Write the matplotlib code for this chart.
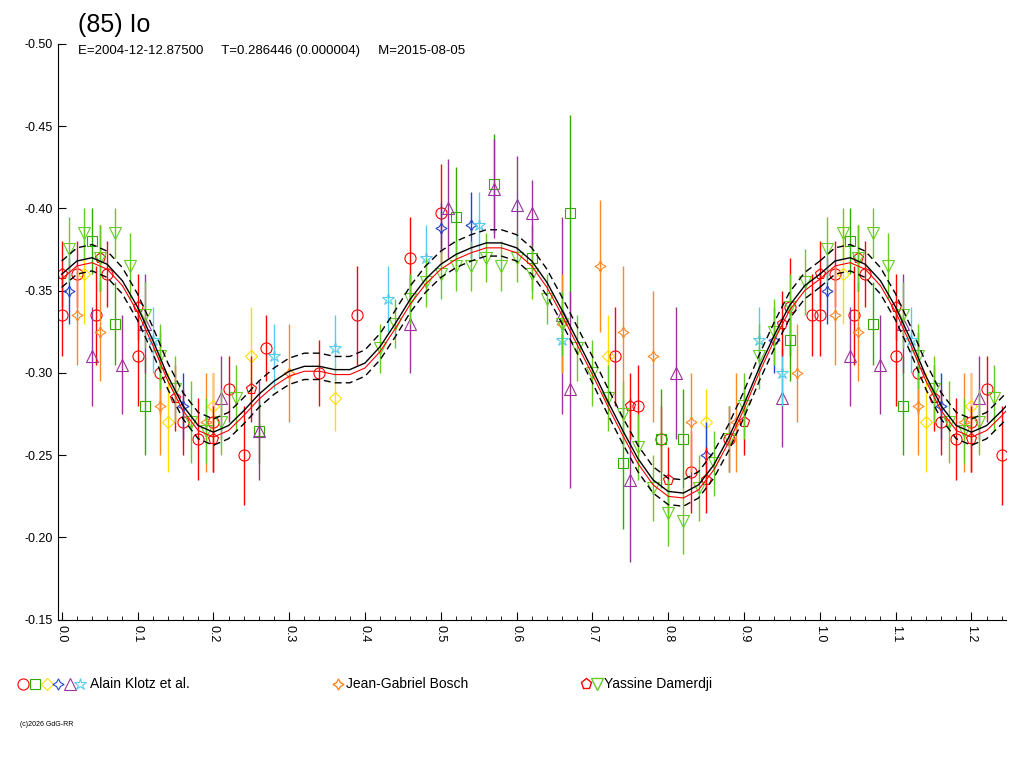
import numpy as np
import matplotlib
matplotlib.use("Agg")
from matplotlib import pyplot as plt

plt.rcParams['font.family'] = ['Liberation Sans', 'DejaVu Sans']

# mean fitted curve (phase, mag)
fit_phase = [0.0, 0.02, 0.04, 0.06, 0.08, 0.10, 0.12, 0.14, 0.16, 0.18, 0.20, 0.22, 0.24, 0.26, 0.28, 0.30,
             0.32, 0.34, 0.36, 0.38, 0.40, 0.42, 0.44, 0.46, 0.48, 0.50, 0.52, 0.54, 0.56, 0.58, 0.60, 0.62,
             0.64, 0.66, 0.68, 0.70, 0.72, 0.74, 0.76, 0.78, 0.80, 0.82, 0.84, 0.86, 0.88, 0.90, 0.92, 0.94,
             0.96, 0.98, 1.00]
fit_mag = [-0.360, -0.368, -0.370, -0.366, -0.356, -0.340, -0.320, -0.298, -0.280, -0.268, -0.264, -0.268,
           -0.277, -0.287, -0.295, -0.301, -0.304, -0.304, -0.302, -0.302, -0.306, -0.316, -0.330, -0.345,
           -0.357, -0.366, -0.372, -0.376, -0.379, -0.379, -0.376, -0.368, -0.355, -0.338, -0.320, -0.302,
           -0.283, -0.265, -0.248, -0.235, -0.228, -0.227, -0.232, -0.244, -0.261, -0.281, -0.303, -0.323,
           -0.341, -0.353, -0.360]
fit_spread = 0.008

# observations: phase, mag, error
klotz_circle = ([0.0, 0.02, 0.045, 0.06, 0.10, 0.13, 0.16, 0.18, 0.20, 0.22, 0.24, 0.27, 0.34, 0.39, 0.46, 0.50, 0.73, 0.76, 0.79, 0.83, 0.88, 0.96, 0.99],
                [-0.335, -0.36, -0.335, -0.36, -0.31, -0.30, -0.27, -0.26, -0.27, -0.29, -0.25, -0.315, -0.30, -0.335, -0.37, -0.397, -0.31, -0.28, -0.26, -0.24, -0.26, -0.34, -0.335],
                [0.025, 0.02, 0.03, 0.02, 0.03, 0.025, 0.02, 0.025, 0.03, 0.02, 0.03, 0.02, 0.02, 0.03, 0.025, 0.03, 0.03, 0.025, 0.02, 0.025, 0.02, 0.03, 0.025])
klotz_square = ([0.04, 0.07, 0.11, 0.26, 0.52, 0.57, 0.62, 0.67, 0.74, 0.79, 0.82, 0.96],
                [-0.38, -0.33, -0.28, -0.265, -0.395, -0.415, -0.37, -0.397, -0.245, -0.26, -0.26, -0.32],
                [0.02, 0.025, 0.03, 0.02, 0.03, 0.03, 0.02, 0.06, 0.04, 0.03, 0.03, 0.025])
klotz_diamond = ([0.03, 0.14, 0.20, 0.25, 0.36, 0.72, 0.85],
                 [-0.36, -0.27, -0.28, -0.31, -0.285, -0.31, -0.27],
                 [0.03, 0.03, 0.02, 0.03, 0.02, 0.025, 0.02])
klotz_star4 = ([0.01, 0.16, 0.50, 0.54, 0.85, 0.94],
               [-0.35, -0.28, -0.388, -0.39, -0.25, -0.32],
               [0.02, 0.02, 0.015, 0.02, 0.02, 0.02])
klotz_triangle = ([0.04, 0.08, 0.11, 0.21, 0.26, 0.46, 0.51, 0.57, 0.60, 0.62, 0.66, 0.67, 0.75, 0.81, 0.95],
                  [-0.31, -0.305, -0.33, -0.285, -0.265, -0.33, -0.40, -0.412, -0.402, -0.397, -0.335, -0.29, -0.235, -0.30, -0.285],
                  [0.03, 0.03, 0.03, 0.025, 0.03, 0.03, 0.03, 0.03, 0.03, 0.02, 0.06, 0.06, 0.05, 0.04, 0.03])
klotz_star = ([0.12, 0.28, 0.36, 0.43, 0.48, 0.55, 0.66, 0.92, 0.95],
              [-0.32, -0.31, -0.315, -0.345, -0.37, -0.39, -0.32, -0.32, -0.30],
              [0.02, 0.02, 0.02, 0.02, 0.02, 0.02, 0.02, 0.02, 0.02])
bosch = ([0.02, 0.05, 0.13, 0.19, 0.30, 0.66, 0.71, 0.74, 0.78, 0.83, 0.89, 0.97],
         [-0.335, -0.325, -0.28, -0.27, -0.30, -0.33, -0.365, -0.325, -0.31, -0.27, -0.27, -0.30],
         [0.03, 0.03, 0.03, 0.03, 0.03, 0.03, 0.04, 0.04, 0.04, 0.03, 0.03, 0.03])
dam_pent = ([0.0, 0.05, 0.10, 0.15, 0.20, 0.25, 0.75, 0.80, 0.85, 0.90, 0.95],
            [-0.36, -0.37, -0.34, -0.285, -0.26, -0.29, -0.28, -0.235, -0.235, -0.27, -0.33],
            [0.02, 0.02, 0.02, 0.02, 0.02, 0.02, 0.02, 0.02, 0.02, 0.02, 0.02])
dam_tri = ([0.01, 0.03, 0.05, 0.07, 0.09, 0.11, 0.13, 0.15, 0.17, 0.19, 0.21, 0.23, 0.42, 0.44, 0.46, 0.48, 0.50,
            0.52, 0.54, 0.56, 0.58, 0.60, 0.62, 0.64, 0.66, 0.68, 0.70, 0.72, 0.74, 0.76, 0.78, 0.80, 0.82, 0.84,
            0.86, 0.88, 0.90, 0.92, 0.94, 0.96, 0.98],
           [-0.375, -0.385, -0.37, -0.385, -0.365, -0.335, -0.31, -0.29, -0.27, -0.265, -0.27, -0.285, -0.315,
            -0.33, -0.345, -0.355, -0.36, -0.365, -0.365, -0.37, -0.365, -0.37, -0.36, -0.345, -0.33, -0.315,
            -0.30, -0.285, -0.275, -0.255, -0.23, -0.215, -0.21, -0.23, -0.245, -0.26, -0.28, -0.31, -0.325,
            -0.34, -0.355],
           [0.02, 0.015, 0.02, 0.015, 0.02, 0.02, 0.02, 0.02, 0.025, 0.02, 0.02, 0.02, 0.015, 0.015, 0.015, 0.015,
            0.015, 0.015, 0.015, 0.015, 0.015, 0.015, 0.015, 0.015, 0.02, 0.02, 0.02, 0.02, 0.02, 0.02, 0.02,
            0.02, 0.02, 0.02, 0.02, 0.02, 0.02, 0.02, 0.02, 0.02, 0.02])

series = [
    (klotz_circle, "o", "#ff0000", 8),
    (klotz_square, "s", "#33aa00", 7),
    (klotz_diamond, "D", "#ffdd00", 6),
    (klotz_star4, (4, 1, 0), "#2244cc", 8),
    (klotz_triangle, "^", "#993399", 8),
    (klotz_star, "*", "#55ccee", 9),
    (bosch, (4, 1, 0), "#ff8822", 8),
    (dam_pent, "p", "#ff0000", 8),
    (dam_tri, "v", "#66cc22", 8),
]

fig = plt.figure(figsize=(10.24, 7.68), dpi=100)
ax = fig.add_axes([0.0566, 0.193, 0.9254, 0.75])

for (ph, mag, err), mk, col, ms in series:
    ph = np.array(ph); mag = np.array(mag); err = np.array(err)
    wrap = ph < 0.25
    ph_all = np.concatenate([ph, ph[wrap] + 1])
    mag_all = np.concatenate([mag, mag[wrap]])
    err_all = np.concatenate([err, err[wrap]])
    ax.errorbar(ph_all, mag_all, yerr=err_all, fmt="none", ecolor=col, elinewidth=1, capsize=0)
    ax.plot(ph_all, mag_all, linestyle="none", marker=mk, ms=ms, mfc="none", mec=col, mew=0.8)

fp = np.array(fit_phase); fm = np.array(fit_mag)
for k in [0, 1]:
    ax.plot(fp + k, fm, color="black", lw=1)
    ax.plot(fp + k, fm - fit_spread, color="black", lw=1, ls=(0, (5, 3)))
    ax.plot(fp + k, fm + fit_spread, color="black", lw=1, ls=(0, (5, 3)))
    ax.plot(fp + k, fm + 0.003, color="red", lw=0.8)

ax.set_xlim(-0.005, 1.245)
ax.set_ylim(-0.15, -0.50)
ax.set_xticks(np.arange(0, 1.21, 0.1))
ax.set_xticklabels(["%.1f" % v for v in np.arange(0, 1.21, 0.1)], rotation=270, fontsize=9)
ax.set_xticks(np.arange(0, 1.245, 0.02), minor=True)
ax.set_yticks(np.arange(-0.50, -0.149, 0.05))
ax.set_yticklabels(["%.2f" % v for v in np.arange(-0.50, -0.149, 0.05)], fontsize=9)
ax.tick_params(direction="in", length=6)
ax.tick_params(which="minor", direction="in", length=3)
ax.spines["top"].set_visible(False)
ax.spines["right"].set_visible(False)

fig.text(0.076, 0.958, "(85) Io", fontsize=18)
fig.text(0.076, 0.930, "E=2004-12-12.87500     T=0.286446 (0.000004)     M=2015-08-05", fontsize=9.5)

# legend
ly = 0.110
lx = [0.022, 0.034, 0.046, 0.057, 0.068, 0.078]
for (d, mk, col, ms), x in zip(series[:6], lx):
    fig.lines.append(plt.Line2D([x], [ly], marker=mk, ms=ms, mfc="none", mec=col, mew=0.8, transform=fig.transFigure))
fig.text(0.088, ly, "Alain Klotz et al.", fontsize=10, va="center")
fig.lines.append(plt.Line2D([0.330], [ly], marker=(4, 1, 0), ms=8, mec="#ff8822", mfc="none", transform=fig.transFigure))
fig.text(0.338, ly, "Jean-Gabriel Bosch", fontsize=10, va="center")
fig.lines.append(plt.Line2D([0.572], [ly], marker="p", ms=8, mec="#ff0000", mfc="none", transform=fig.transFigure))
fig.lines.append(plt.Line2D([0.583], [ly], marker="v", ms=8, mec="#66cc22", mfc="none", transform=fig.transFigure))
fig.text(0.590, ly, "Yassine Damerdji", fontsize=10, va="center")
fig.text(0.020, 0.055, "(c)2026 GdG-RR", fontsize=5)

fig.savefig("out.png", dpi=100)
